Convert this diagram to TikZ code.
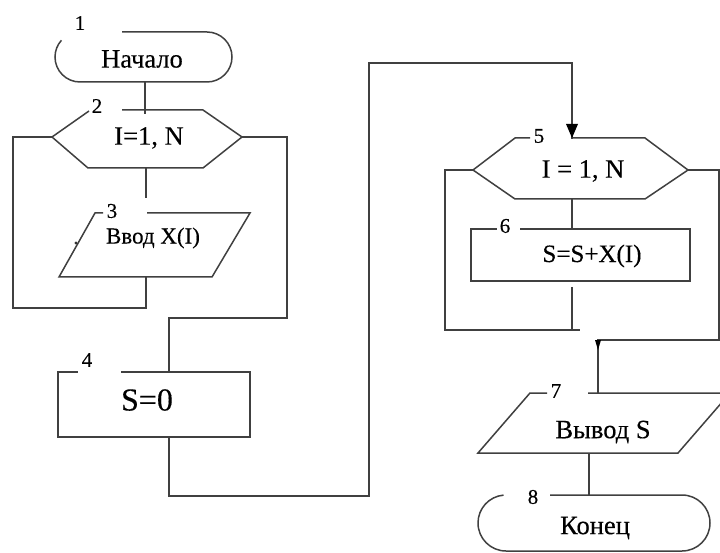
\documentclass[tikz,border=0pt]{standalone}
\usepackage{fontspec}
\setmainfont{Liberation Serif}[FakeBold=0.3]
\usetikzlibrary{arrows.meta}
\begin{document}
\begin{tikzpicture}[x=1pt,y=-1pt,
  ln/.style={draw=black!75, line width=1.5pt, line join=miter},
  txt/.style={font=\fontsize{26.5}{28}\selectfont, inner sep=0pt, text=black},
  num/.style={font=\fontsize{21}{23}\selectfont, inner sep=0pt, text=black}]
\useasboundingbox (0,0) rectangle (720,553);
\begin{scope}
\clip (0,0) rectangle (720,553);
% ---- connection points
\coordinate (t1b) at (145,82);
\coordinate (h2t) at (145,114);
\coordinate (h2b) at (146,168);
\coordinate (h2bs) at (146,198);
\coordinate (h2l) at (52,137);
\coordinate (h2r) at (242,137);
\coordinate (p3b) at (146,277);
\coordinate (b4t) at (169,372);
\coordinate (b4b) at (169,437);
\coordinate (h5t) at (572,138);
\coordinate (h5b) at (572,199);
\coordinate (h5l) at (473,170);
\coordinate (h5r) at (688,170);
\coordinate (b6t) at (572,229);
\coordinate (b6bs) at (572,287);
\coordinate (p7t) at (598,393);
\coordinate (p7b) at (589,453);
\coordinate (t8t) at (589,495);
% ---- block 1 : terminal
\draw[ln] (122,32) -- (207,32) arc[start angle=-90, end angle=90, radius=25]
  -- (80,82) arc[start angle=90, end angle=222, radius=25];
\node[txt] (n1) at (142,59) {Начало};
\node[num] (l1) at (80,23) {1};
% ---- block 2 : loop hexagon
\draw[ln] (122,110) -- (203,110) -- (h2r) -- (203,168) -- (88,168) -- (h2l) -- (89,111);
\node[txt] (n2) at (149,138) {I=1, N};
\node[num] (l2) at (97,106) {2};
% ---- block 3 : input
\draw[ln] (147,213) -- (250,213) -- (212,277) -- (59,277) -- (95,213) -- (103,213);
\fill[black!80] (76,243) circle (1.6);
\node[txt, font=\fontsize{23}{25}\selectfont] (n3) at (153,238) {Ввод X(I)};
\node[num] (l3) at (112,211) {3};
% ---- block 4 : process
\draw[ln] (121,372) -- (250,372) -- (250,437) -- (58,437) -- (58,372) -- (78,372);
\node[txt, font=\fontsize{32}{34}\selectfont] (n4) at (147,400) {S=0};
\node[num] (l4) at (87,360) {4};
% ---- block 5 : loop hexagon
\draw[ln] (572,138) -- (645,138) -- (h5r) -- (645,199) -- (515,199) -- (h5l) -- (515,138) -- (530,138);
\node[txt] (n5) at (583,171) {I = 1, N};
\node[num] (l5) at (539,136) {5};
% ---- block 6 : process
\draw[ln] (520,229) -- (690,229) -- (690,281) -- (471,281) -- (471,229) -- (497,229);
\node[txt, font=\fontsize{25}{27}\selectfont] (n6) at (592,256) {S=S+X(I)};
\node[num] (l6) at (505,226) {6};
% ---- block 7 : output
\draw[ln] (588,393) -- (730,393) -- (678,453) -- (478,453) -- (530,393) -- (547,393);
\node[txt] (n7) at (603,432) {Вывод S};
\node[num] (l7) at (556,391) {7};
% ---- block 8 : terminal
\draw[ln] (550,495) -- (682,495) arc[start angle=-90, end angle=90, radius=28]
  -- (506,551) arc[start angle=90, end angle=265, radius=28];
\node[txt] (n8) at (595,528) {Конец};
\node[num] (l8) at (533,497) {8};
% ---- connectors
\draw[ln] (t1b) -- (h2t);
\draw[ln] (h2b) -- (h2bs);
\draw[ln] (p3b) |- (13,308) |- (h2l);
\draw[ln] (h2r) -| (287,318) -| (b4t);
\draw[ln] (b4b) |- (369,496) |- (572,63)
  -- ([yshift=-1pt]h5t);
\draw[draw=none, fill=black] (h5t) -- ++(-6,-14) -- ++(12,0) -- cycle;
\draw[ln] (h5b) -- (b6t);
\draw[ln] (b6bs) -- (572,330);
\draw[ln] (h5l) -| (445,330) -- (580,330);
\draw[ln] (h5r) -| (719,340) -| (p7t);
\draw[draw=none, fill=black] (598,350) -- ++(-3,-10) -- ++(6,0) -- cycle;
\draw[ln] (p7b) -- (t8t);
\end{scope}
\end{tikzpicture}
\end{document}
